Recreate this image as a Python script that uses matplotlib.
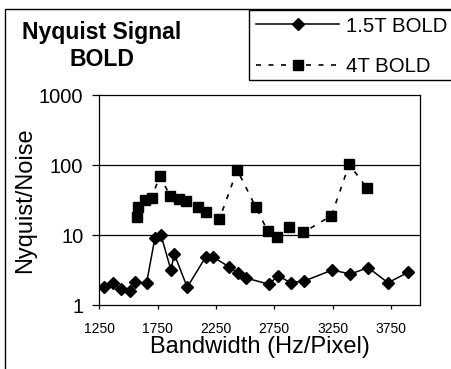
import matplotlib

matplotlib.use("Agg")
import matplotlib.pyplot as plt
from matplotlib.lines import Line2D
from matplotlib.patches import Rectangle

plt.rcParams.update(
    {
        "font.family": ["Liberation Sans", "DejaVu Sans"],
        "axes.linewidth": 0.9,
    }
)

# ---------- data ----------
bw_15t = [1290, 1370, 1440, 1510, 1555, 1655, 1727, 1779, 1864, 1893, 2004,
          2164, 2221, 2361, 2441, 2510, 2704, 2784, 2890, 3007, 3247, 3404,
          3555, 3726, 3898]
snr_15t = [1.84, 2.06, 1.71, 1.60, 2.13, 2.06, 9.2, 10.1, 3.2, 5.4, 1.81,
           4.95, 4.95, 3.56, 2.86, 2.45, 2.0, 2.65, 2.1, 2.22, 3.19, 2.8,
           3.45, 2.1, 2.96]

bw_4t = [1573, 1578, 1642, 1699, 1770, 1856, 1933, 1990, 2093, 2162, 2279,
         2433, 2590, 2693, 2776, 2878, 3000, 3241, 3393, 3547]
snr_4t = [18.1, 25.6, 31.9, 34.5, 71, 36.8, 33, 30.9, 25.6, 21.3, 16.9,
          85.7, 25.6, 11.6, 9.4, 13.3, 11.0, 19.1, 103, 46.9]

x_ticks = [1250, 1750, 2250, 2750, 3250, 3750]
y_ticks = [1, 10, 100, 1000]

# ---------- figure ----------
W, H = 451, 369
fig = plt.figure(figsize=(W / 100, H / 100), dpi=100)
ax = fig.add_axes([99.3 / W, 1 - 305.3 / H, (420 - 99.3) / W, (305.3 - 95.3) / H])

dash = (0, (3.0, 4.5))
ax.plot(bw_15t, snr_15t, color="black", lw=1.1, marker="D", ms=6.0,
        mfc="black", mec="black", zorder=3)
ax.plot(bw_4t, snr_4t, color="black", lw=1.2, linestyle=dash, marker="s",
        ms=7.5, mfc="black", mec="black", zorder=3)

ax.set_yscale("log")
ax.set_ylim(1, 1000)
ax.set_xlim(1250, 4000)
ax.set_xticks(x_ticks)
ax.set_xticklabels([str(v) for v in x_ticks], fontsize=10)
ax.set_yticks(y_ticks)
ax.set_yticklabels([str(v) for v in y_ticks], fontsize=14.5)
ax.yaxis.set_minor_locator(matplotlib.ticker.NullLocator())
ax.tick_params(axis="y", direction="out", length=5, width=0.9, pad=6.5)
ax.tick_params(axis="x", direction="out", length=3, width=0.9, pad=9)
for v in [10, 100]:
    ax.axhline(v, color="black", lw=0.9, zorder=1)

ax.set_xlabel("Bandwidth (Hz/Pixel)", fontsize=17, va="center")
ax.xaxis.set_label_coords(259.6 / W, 1 - 347 / H, transform=fig.transFigure)
ax.set_ylabel("Nyquist/Noise", fontsize=17, va="center")
ax.yaxis.set_label_coords(25 / W, 0.5 * ((1 - 305.3 / H) + (1 - 95.3 / H)),
                          transform=fig.transFigure)

# title block
fig.text(102 / W, 1 - 32.5 / H, "Nyquist Signal", ha="center", va="center",
         fontsize=16.6, fontweight="bold")
fig.text(102 / W, 1 - 59 / H, "BOLD", ha="center", va="center",
         fontsize=16.6, fontweight="bold")

# outer chart border (runs off the right and bottom edges)
fig.add_artist(Rectangle((5 / W, -0.1), 1.0, 1.1 - 9.5 / H,
                         transform=fig.transFigure, fill=False,
                         edgecolor="black", lw=1.0))
# legend box, also cut by the right edge
fig.add_artist(Rectangle((248.5 / W, 1 - 80 / H), 0.5, (80 - 9.5) / H,
                         transform=fig.transFigure, fill=False,
                         edgecolor="black", lw=1.0))

handles = [
    Line2D([], [], color="black", lw=1.1, marker="D", ms=6.0),
    Line2D([], [], color="black", lw=1.2, linestyle=dash, marker="s", ms=7.5),
]
leg = fig.legend(handles, ["1.5T BOLD", "4T BOLD"], loc="upper left",
                 bbox_to_anchor=(248.5 / W, 1 - 9.5 / H), borderaxespad=0,
                 fontsize=14.7, frameon=False,
                 handlelength=4.1, handletextpad=0.35, labelspacing=1.05,
                 borderpad=0.35)

fig.savefig("out.png", dpi=100)
